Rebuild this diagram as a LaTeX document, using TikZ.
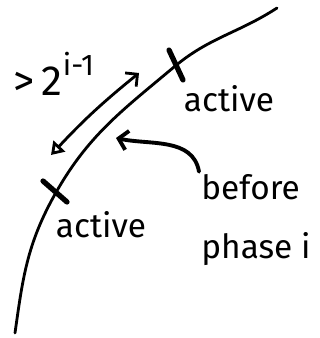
\documentclass[tikz,border=0pt]{standalone}
\usepackage{fontspec}
\setmainfont{Fira Sans}
\usetikzlibrary{arrows.meta}
\begin{document}
\begin{tikzpicture}
[x=0.02cm, y=-0.02cm, line cap=round, font=\fontsize{19}{34}\selectfont]
\tikzstyle{arc}=[line width=1.6pt]
\tikzstyle{tick}=[line width=3pt]
\tikzstyle{word}=[inner sep=0pt]
\useasboundingbox (0,0) rectangle (320,338);

\coordinate (T)  at (277,8);
\coordinate (A)  at (174,67);
\coordinate (B)  at (54,196);
\coordinate (Z)  at (15,333);

\coordinate (A1) at (169,50);
\coordinate (A2) at (183,80);
\coordinate (B1) at (43,181);
\coordinate (B2) at (67,202);

\coordinate (G1) at (139,73);
\coordinate (G2) at (51,155);
\coordinate (P)  at (116,138);

\node[word]  (gap)     at (54,74)   {\fontsize{24}{24}\selectfont >\,2\raisebox{11pt}{\fontsize{17}{17}\selectfont i-1}};
\node[word]  (actA)    at (229,99)  {active};
\node[word]  (actB)    at (101,225) {active};
\node[word, align=left] (before) at (256,220) {before\\phase i};

\draw[arc] (T) to[out=213,in=40] (A) to[out=220,in=61] (B) to[out=241,in=82] (Z);
\draw[tick] (A1)--(A2);
\draw[tick] (B1)--(B2);
\draw[arc, {Triangle[open,length=7pt,width=9pt]}-{Straight Barb[length=5pt,width=10pt]}] (G2) to[bend left=4] (G1);
\draw[arc, line width=2.2pt, -{Straight Barb[length=5pt,width=11pt]}] (before.north west)++(-2,-2) to[out=100,in=-12] (P);
\end{tikzpicture}
\end{document}
